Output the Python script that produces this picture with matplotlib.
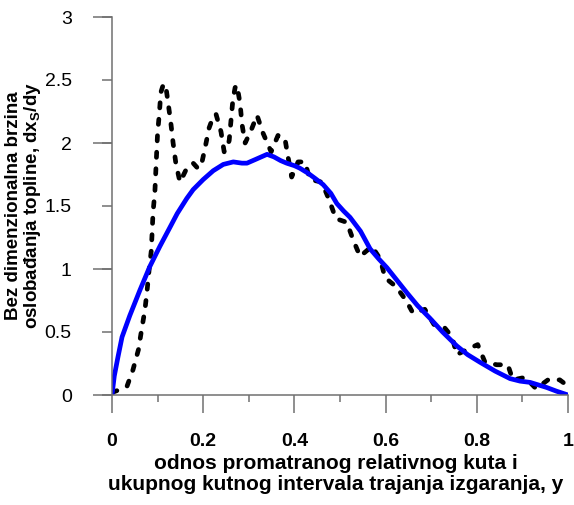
import matplotlib.pyplot as plt
from matplotlib.ticker import MultipleLocator

plt.rcParams["font.family"] = ["Liberation Sans", "DejaVu Sans"]
plt.rcParams["mathtext.fontset"] = "custom"
plt.rcParams["mathtext.rm"] = "Liberation Sans"
plt.rcParams["mathtext.bf"] = "Liberation Sans:bold"

# model curve (solid blue)
model_x = [0, 0.005, 0.013, 0.022, 0.039, 0.061, 0.083, 0.105, 0.127, 0.143,
           0.164, 0.178, 0.2, 0.222, 0.244, 0.266, 0.285, 0.296, 0.315, 0.34,
           0.355, 0.37, 0.383, 0.4, 0.412, 0.43, 0.445, 0.463, 0.48, 0.493,
           0.508, 0.522, 0.545, 0.566, 0.585, 0.603, 0.625, 0.647, 0.67, 0.697,
           0.725, 0.756, 0.78, 0.807, 0.84, 0.873, 0.895, 0.917, 0.935, 0.953,
           0.975, 1.0]
model_y = [0, 0.15, 0.30, 0.46, 0.63, 0.83, 1.02, 1.18, 1.33, 1.44,
           1.56, 1.63, 1.71, 1.78, 1.83, 1.85, 1.84, 1.84, 1.87, 1.91,
           1.89, 1.86, 1.84, 1.82, 1.80, 1.76, 1.72, 1.67, 1.60, 1.52,
           1.46, 1.41, 1.30, 1.16, 1.08, 1.01, 0.91, 0.81, 0.71, 0.61,
           0.50, 0.39, 0.32, 0.26, 0.19, 0.13, 0.11, 0.10, 0.08, 0.06,
           0.03, 0.0]

# measured curve (black dashed)
meas_x = [0.0, 0.015, 0.033, 0.046, 0.058, 0.065, 0.072, 0.077, 0.081, 0.086,
          0.088, 0.090, 0.094, 0.096, 0.098, 0.100, 0.104, 0.107, 0.113, 0.118,
          0.123, 0.129, 0.134, 0.140, 0.149, 0.156, 0.164, 0.178, 0.188, 0.195,
          0.204, 0.213, 0.222, 0.228, 0.239, 0.246, 0.252, 0.257, 0.261, 0.265,
          0.270, 0.274, 0.281, 0.285, 0.292, 0.305, 0.318, 0.331, 0.349, 0.364,
          0.379, 0.386, 0.394, 0.408, 0.423, 0.434, 0.46, 0.476, 0.491, 0.515,
          0.529, 0.544, 0.57, 0.588, 0.599, 0.623, 0.645, 0.66, 0.686, 0.706,
          0.728, 0.746, 0.756, 0.778, 0.802, 0.818, 0.844, 0.868, 0.879, 0.906,
          0.93, 0.956, 0.982, 1.0]
meas_y = [0.02, 0.04, 0.07, 0.20, 0.36, 0.52, 0.67, 0.83, 0.98, 1.14,
          1.29, 1.45, 1.61, 1.77, 1.93, 2.08, 2.24, 2.40, 2.47, 2.45,
          2.32, 2.16, 2.00, 1.84, 1.69, 1.74, 1.80, 1.84, 1.80, 1.81,
          1.96, 2.12, 2.21, 2.23, 2.09, 1.93, 1.96, 2.02, 2.18, 2.34,
          2.44, 2.46, 2.31, 2.15, 2.00, 2.10, 2.22, 2.08, 1.93, 2.06,
          2.04, 1.89, 1.73, 1.85, 1.85, 1.71, 1.69, 1.55, 1.40, 1.37,
          1.23, 1.10, 1.18, 1.08, 0.93, 0.86, 0.75, 0.65, 0.68, 0.56,
          0.54, 0.46, 0.32, 0.36, 0.40, 0.26, 0.24, 0.24, 0.12, 0.14,
          0.05, 0.12, 0.12, 0.07]

fig = plt.figure(figsize=(5.74, 5.05), dpi=100)
ax = fig.add_axes([112 / 574, 110 / 505, 456 / 574, 378 / 505])

ax.plot(meas_x, meas_y, color="black", linewidth=3.4,
        dashes=(1.1, 2.4), dash_capstyle="round", solid_capstyle="round")
ax.plot(model_x, model_y, color="#0000ff", linewidth=3.4, solid_capstyle="round")

ax.set_xlim(0, 1)
ax.set_ylim(0, 3)
for s in ["top", "right"]:
    ax.spines[s].set_visible(False)
for s in ["left", "bottom"]:
    ax.spines[s].set_color("#707070")
    ax.spines[s].set_linewidth(1.1)

ax.xaxis.set_major_locator(MultipleLocator(0.2))
ax.xaxis.set_minor_locator(MultipleLocator(0.1))
ax.yaxis.set_major_locator(MultipleLocator(0.5))
ax.yaxis.set_minor_locator(MultipleLocator(1.0))
ax.yaxis.remove_overlapping_locs = False
ax.xaxis.set_major_formatter(plt.FuncFormatter(lambda v, p: f"{v:g}"))
ax.yaxis.set_major_formatter(plt.FuncFormatter(lambda v, p: f"{v:g}"))

ax.tick_params(axis="x", which="major", direction="out", length=13, width=1.1,
               color="#707070", pad=14, labelsize=14)
ax.tick_params(axis="x", which="minor", direction="out", length=5, width=1.1,
               color="#707070")
ax.tick_params(axis="y", which="major", direction="out", length=7, width=1.1,
               color="#707070", pad=22, labelsize=14)
ax.tick_params(axis="y", which="minor", direction="out", length=14, width=1.1,
               color="#707070")
for lbl in ax.get_xticklabels():
    lbl.set_fontweight("bold")

ax.set_xlabel("odnos promatranog relativnog kuta i\n"
              "ukupnog kutnog intervala trajanja izgaranja, y",
              fontsize=15, fontweight="bold", linespacing=1.15, va="top")
ax.xaxis.set_label_coords(0.49, -0.155)
ax.set_ylabel("Bez dimenzionalna brzina\n"
              r"oslobađanja topline, dx$_{\mathbf{S}}$/dy",
              fontsize=13.5, fontweight="bold", linespacing=1.0)
ax.yaxis.set_label_coords(-0.151, 0.5)

fig.savefig("out.png", dpi=100)
